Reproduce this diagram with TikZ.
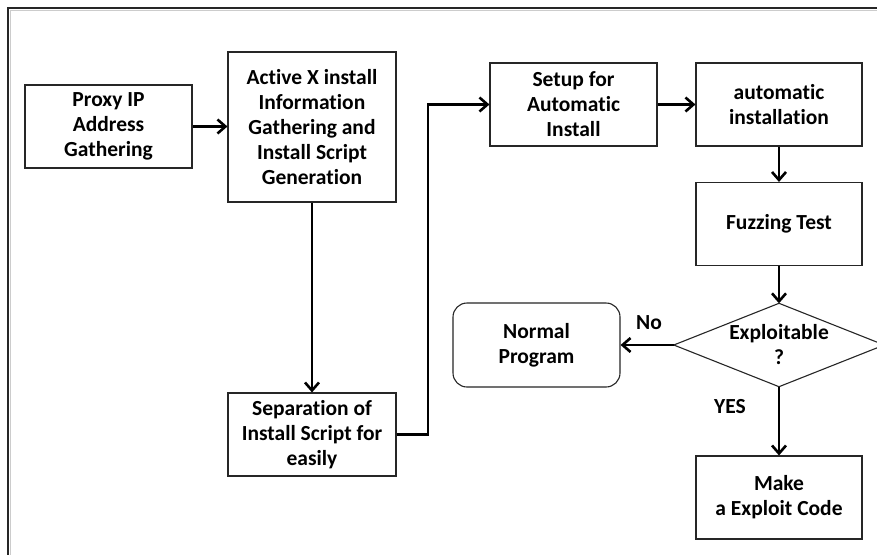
\documentclass[tikz,border=0pt]{standalone}
\usepackage{fontspec}
\setmainfont{Carlito}[Ligatures={NoCommon}]
\usetikzlibrary{arrows.meta}
\begin{document}
\begin{tikzpicture}[x=1pt,y=-1pt,
  box/.style={draw=black!85, line width=1.1pt, fill=white, align=center,
    inner sep=2pt, font=\fontsize{21.5}{25}\selectfont\bfseries},
  rbox/.style={box, rounded corners=14pt},
  lbl/.style={font=\fontsize{21.5}{25}\selectfont\bfseries, inner sep=0pt},
  flow/.style={line width=2.9pt, -{Straight Barb[length=8pt,width=14pt,line width=2.6pt]}},
  link/.style={line width=2.9pt}]
\useasboundingbox (0,0) rectangle (877,554);
\fill[white] (0,0) rectangle (877,554);
\draw[black!20, line width=1pt] (10,556) -- (10,10) -- (879,10);
\draw[black!85, line width=1.2pt] (8,556) -- (8,8) -- (879,8);

\node[box, minimum width=167pt, minimum height=83pt] (proxy) at (108.5,126.5) {Proxy IP\\Address\\Gathering};
\node[box, minimum width=168pt, minimum height=150pt] (active) at (312,127) {Active X install\\Information\\Gathering and\\Install Script\\Generation};
\node[box, minimum width=168pt, minimum height=83pt] (sep) at (312,434.5) {Separation of\\Install Script for\\easily};
\node[box, minimum width=167pt, minimum height=83pt] (setup) at (573.5,104.5) {Setup for\\Automatic\\Install};
\node[box, minimum width=166pt, minimum height=83pt] (auto) at (779,104.5) {automatic\\installation};
\node[box, minimum width=166pt, minimum height=83pt] (fuzz) at (779,224) {Fuzzing Test};
\node[lbl, align=center, minimum width=210pt, minimum height=83pt] (dec) at (779,345) {Exploitable\\?};
\draw[black!85, line width=1.1pt] (dec.north) -- (dec.east) -- (dec.south) -- (dec.west) -- cycle;
\node[rbox, minimum width=167pt, minimum height=84pt] (normal) at (536.5,345) {Normal\\Program};
\node[box, minimum width=166pt, minimum height=83pt] (make) at (779,497.5) {Make\\a Exploit Code};

\node[lbl] (no) at (649,323) {No};
\node[lbl] (yes) at (730,407) {YES};

\coordinate (bend) at (428,104.5);

\draw[flow] (proxy.east) -- (active.west |- proxy.east);
\draw[flow] (active.south) -- (sep.north);
\draw[flow] (sep.east) -| (bend) -- (setup.west);
\draw[flow] (setup.east) -- (auto.west);
\draw[flow] (auto.south) -- (fuzz.north);
\draw[flow] (fuzz.south) -- (dec.north);
\draw[flow] (dec.west) -- (normal.east);
\draw[flow] (dec.south) -- (make.north);
\end{tikzpicture}
\end{document}
